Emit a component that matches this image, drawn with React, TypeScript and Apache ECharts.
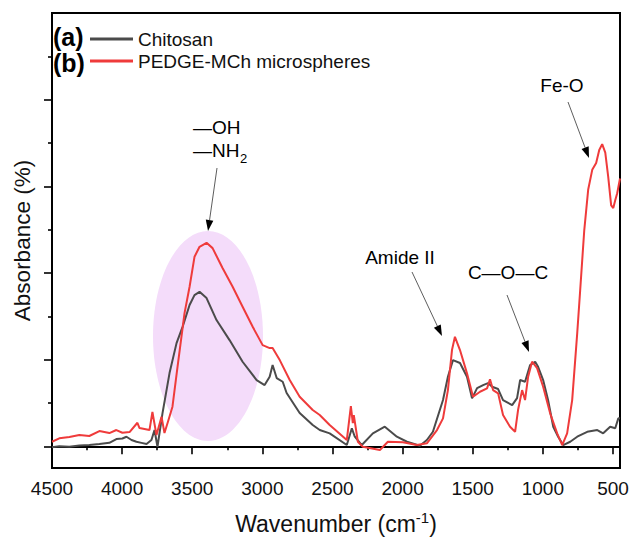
import React, { useEffect, useRef } from "react";
import * as echarts from "echarts";

// ---- data ----
const seriesNames = ["Chitosan", "PEDGE-MCh microspheres"];

const chitosanWavenumber = [4500, 4448, 4376, 4305, 4234, 4162, 4091, 4041, 3998, 3969, 3933, 3898, 3862, 3826, 3791, 3769, 3748, 3712, 3662, 3612, 3569, 3519, 3484, 3448, 3398, 3327, 3234, 3141, 3041, 2984, 2948, 2927, 2898, 2855, 2827, 2734, 2641, 2591, 2520, 2398, 2362, 2341, 2291, 2212, 2127, 2041, 1969, 1877, 1827, 1784, 1712, 1677, 1641, 1591, 1541, 1505, 1469, 1426, 1391, 1362, 1319, 1284, 1219, 1184, 1162, 1127, 1091, 1055, 1034, 998, 963, 926, 891, 855, 805, 755, 684, 612, 570, 520, 484, 462, 450];
const chitosanAbsorbance = [-0.01, 0.0, -0.005, 0.01, 0.015, 0.027, 0.04, 0.084, 0.09, 0.111, 0.073, 0.053, 0.04, 0.027, 0.073, 0.188, -0.005, 0.384, 0.845, 1.191, 1.379, 1.63, 1.745, 1.783, 1.711, 1.457, 1.226, 0.976, 0.765, 0.707, 0.803, 0.938, 0.788, 0.745, 0.615, 0.384, 0.246, 0.188, 0.15, 0.015, 0.208, 0.111, 0.015, 0.15, 0.226, 0.111, 0.053, 0.007, 0.073, 0.168, 0.534, 0.803, 0.995, 0.961, 0.803, 0.554, 0.672, 0.707, 0.73, 0.687, 0.661, 0.534, 0.476, 0.557, 0.765, 0.745, 0.938, 0.976, 0.918, 0.765, 0.534, 0.226, 0.111, 0.015, 0.053, 0.111, 0.168, 0.188, 0.15, 0.226, 0.208, 0.323, 0.32];

const pedgeWavenumber = [4500, 4448, 4376, 4305, 4234, 4162, 4091, 4041, 3998, 3947, 3891, 3876, 3805, 3784, 3755, 3719, 3698, 3676, 3641, 3605, 3555, 3519, 3484, 3448, 3398, 3355, 3284, 3212, 3141, 3069, 2998, 2948, 2927, 2876, 2805, 2734, 2641, 2591, 2520, 2398, 2369, 2355, 2348, 2319, 2284, 2162, 2105, 1998, 1898, 1827, 1755, 1712, 1677, 1648, 1627, 1591, 1541, 1498, 1448, 1398, 1377, 1355, 1319, 1284, 1234, 1198, 1177, 1148, 1127, 1105, 1077, 1041, 998, 948, 898, 862, 827, 791, 755, 734, 705, 677, 648, 620, 598, 577, 555, 534, 513, 498, 484, 470, 450];
const pedgeAbsorbance = [0.053, 0.092, 0.107, 0.13, 0.119, 0.176, 0.153, 0.188, 0.157, 0.165, 0.272, 0.211, 0.188, 0.396, 0.13, 0.341, 0.153, 0.269, 0.457, 0.918, 1.537, 1.841, 2.187, 2.302, 2.348, 2.287, 2.057, 1.841, 1.61, 1.379, 1.168, 1.134, 1.134, 0.995, 0.765, 0.572, 0.419, 0.361, 0.246, 0.073, 0.465, 0.269, 0.361, 0.053, -0.005, -0.043, 0.053, 0.046, 0.015, 0.035, 0.188, 0.323, 0.649, 1.111, 1.264, 1.111, 0.842, 0.572, 0.63, 0.669, 0.773, 0.649, 0.611, 0.361, 0.226, 0.168, 0.419, 0.649, 0.534, 0.803, 0.976, 0.903, 0.687, 0.381, 0.15, 0.015, 0.15, 0.534, 1.307, 1.8, 2.49, 2.96, 3.19, 3.27, 3.42, 3.487, 3.39, 3.11, 2.78, 2.75, 2.84, 2.92, 3.09];

const xMajorTicks = [4500, 4000, 3500, 3000, 2500, 2000, 1500, 1000, 500];
const xMinorTicks = [4250, 3750, 3250, 2750, 2250, 1750, 1250, 750];
const yMajorTicks = [0, 1, 2, 3, 4];
const yMinorTicks = [0.5, 1.5, 2.5, 3.5, 4.5];

const FONT = "'Liberation Sans', Arial, Helvetica, sans-serif";
const GRAY = "#4b4b4b";
const RED = "#ef3b3b";

function arrow(x1: number, y1: number, x2: number, y2: number) {
  const dx = x2 - x1;
  const dy = y2 - y1;
  const len = Math.sqrt(dx * dx + dy * dy);
  const ux = dx / len;
  const uy = dy / len;
  const hl = 11;
  const hw = 3.8;
  const bx = x2 - ux * hl;
  const by = y2 - uy * hl;
  return [
    {
      type: "line",
      z: 20,
      shape: { x1, y1, x2: bx, y2: by },
      style: { stroke: "#333", lineWidth: 0.8 },
    },
    {
      type: "polygon",
      z: 20,
      shape: {
        points: [
          [x2, y2],
          [bx - uy * hw, by + ux * hw],
          [bx + uy * hw, by - ux * hw],
        ],
      },
      style: { fill: "#000" },
    },
  ];
}

function txt(text: string, x: number, y: number, size: number, align = "left", weight = "normal") {
  return {
    type: "text",
    z: 20,
    x,
    y,
    style: {
      text,
      fill: "#000",
      font: `${weight} ${size}px ${FONT}`,
      align,
      verticalAlign: "middle",
    },
  };
}

export default function App() {
  const ref = useRef<HTMLDivElement>(null);
  useEffect(() => {
    if (!ref.current) return;
    const chart = echarts.init(ref.current, undefined, { renderer: "svg" });
    const axisCommon = {
      type: "value",
      splitLine: { show: false },
    };
    const option: any = {
      animation: false,
      backgroundColor: "#fff",
      grid: {
        left: 52,
        right: 10,
        top: 13,
        bottom: 73,
        containLabel: false,
        outerBoundsMode: "none",
        show: true,
        borderColor: "#000",
        borderWidth: 2,
        backgroundColor: "transparent",
      },
      legend: {
        data: seriesNames,
        orient: "vertical",
        left: 85,
        top: 24,
        icon: "rect",
        itemWidth: 43,
        itemHeight: 3,
        itemGap: 2,
        textStyle: { fontSize: 19, fontFamily: FONT, color: "#111", lineHeight: 20 },
      },
      xAxis: [
        {
          ...axisCommon,
          min: 450,
          max: 4500,
          inverse: true,
          position: "bottom",
          axisLine: { show: true, lineStyle: { color: "#000", width: 2 } },
          axisTick: {
            show: true,
            inside: false,
            length: 8,
            customValues: xMajorTicks,
            lineStyle: { color: "#000", width: 1.6 },
          },
          axisLabel: {
            show: true,
            customValues: xMajorTicks,
            formatter: (v: number) => String(v),
            margin: 11,
            fontSize: 19,
            fontFamily: FONT,
            color: "#111",
            hideOverlap: false,
          },
          name: "{a|Wavenumber (cm}{b|-1}{a|)}",
          nameLocation: "middle",
          nameGap: 42,
          nameTextStyle: {
            rich: {
              a: { fontSize: 23, fontFamily: FONT, color: "#111", lineHeight: 28 },
              b: { fontSize: 15, fontFamily: FONT, color: "#111", verticalAlign: "top", lineHeight: 16 },
            },
          },
        },
        {
          ...axisCommon,
          min: 450,
          max: 4500,
          inverse: true,
          position: "bottom",
          axisLine: { show: false },
          axisTick: {
            show: true,
            inside: false,
            length: 4,
            customValues: xMinorTicks,
            lineStyle: { color: "#000", width: 1.6 },
          },
          axisLabel: { show: false },
        },
      ],
      yAxis: [
        {
          ...axisCommon,
          min: -0.25,
          max: 5,
          position: "left",
          axisLine: { show: true, lineStyle: { color: "#000", width: 2 } },
          axisTick: {
            show: true,
            inside: false,
            length: 8,
            customValues: yMajorTicks,
            lineStyle: { color: "#000", width: 1.6 },
          },
          axisLabel: { show: false },
          name: "Absorbance (%)",
          nameLocation: "middle",
          nameGap: 18,
          nameTextStyle: { fontSize: 22.5, fontFamily: FONT, color: "#111" },
        },
        {
          ...axisCommon,
          min: -0.25,
          max: 5,
          position: "left",
          axisLine: { show: false },
          axisTick: {
            show: true,
            inside: false,
            length: 4,
            customValues: yMinorTicks,
            lineStyle: { color: "#000", width: 1.6 },
          },
          axisLabel: { show: false },
        },
      ],
      series: [
        {
          name: seriesNames[0],
          type: "line",
          xAxisIndex: 0,
          yAxisIndex: 0,
          showSymbol: false,
          z: 3,
          color: GRAY,
          lineStyle: { color: GRAY, width: 2 },
          data: chitosanWavenumber.map((w, i) => [w, chitosanAbsorbance[i]]),
        },
        {
          name: seriesNames[1],
          type: "line",
          xAxisIndex: 0,
          yAxisIndex: 0,
          showSymbol: false,
          z: 4,
          color: RED,
          lineStyle: { color: RED, width: 2 },
          data: pedgeWavenumber.map((w, i) => [w, pedgeAbsorbance[i]]),
        },
      ],
      graphic: [
        {
          type: "ellipse",
          z: 1,
          shape: { cx: 208, cy: 336, rx: 55, ry: 105 },
          style: { fill: "#f4dcfa" },
        },
        ...arrow(217, 168, 208, 231),
        ...arrow(412, 272, 442, 336),
        ...arrow(507, 295, 529, 352),
        ...arrow(568, 102, 589, 158),
        txt("—OH", 193, 127, 19),
        txt("—NH", 193, 150, 19),
        txt("2", 240, 158, 13),
        txt("Amide II", 400, 257, 19, "center"),
        txt("C—O—C", 508, 272, 19, "center"),
        txt("Fe-O", 562, 85, 19, "center"),
        txt("(a)", 53, 37, 25, "left", "bold"),
        txt("(b)", 53, 63, 25, "left", "bold"),
      ],
    };
    chart.setOption(option);
    return () => chart.dispose();
  }, []);
  return (
    <div
      ref={ref}
      style={{ position: "fixed", left: 0, top: 0, width: 630, height: 541, background: "#fff" }}
    />
  );
}
